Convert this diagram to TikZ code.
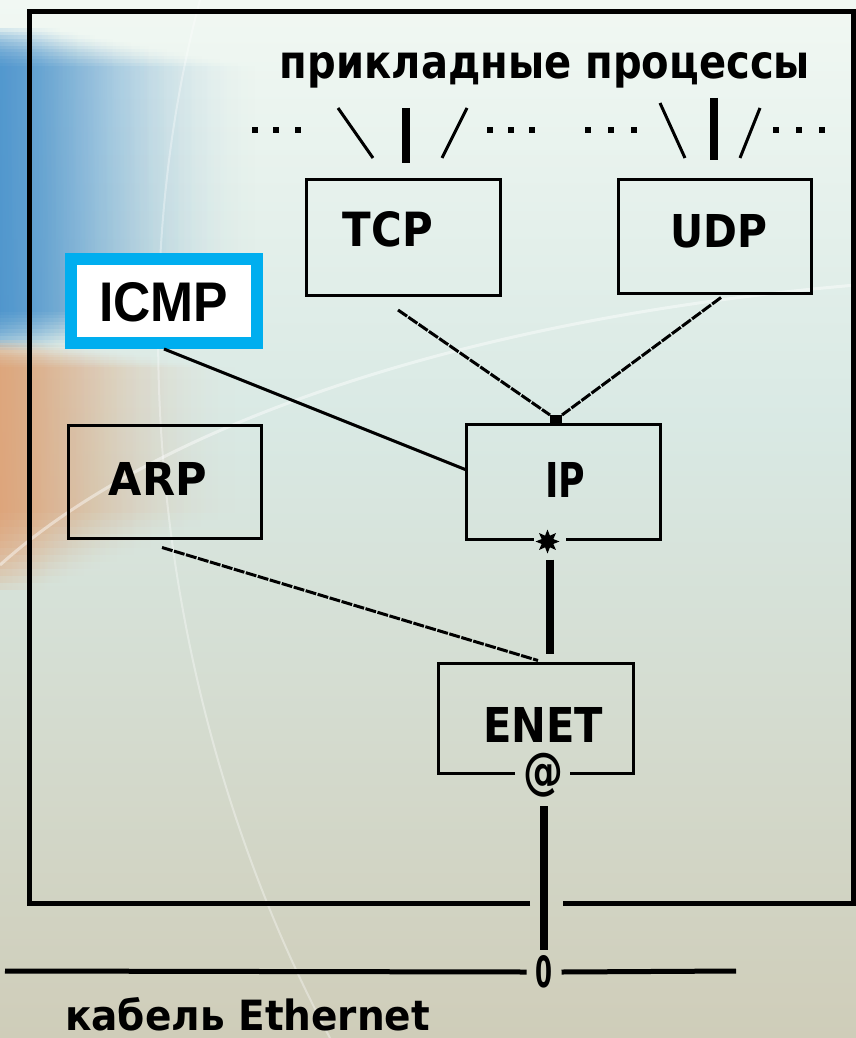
\documentclass[tikz,border=0pt]{standalone}
\usepackage{fontspec}
\setmainfont{DejaVu Sans}
\newfontfamily\arialfont{Liberation Sans}
\usetikzlibrary{fadings,shapes.geometric}

\definecolor{bgtop}{HTML}{F1F8F3}
\definecolor{bgmid}{HTML}{D9E9E4}
\definecolor{bgbot}{HTML}{CFCDB9}
\definecolor{bgblue}{HTML}{3A8ACB}
\definecolor{bgorange}{HTML}{E49A68}
\definecolor{icmpblue}{RGB}{0,174,239}

% bold text squeezed or stretched to a given width and height
\newcommand\pxfit[3]{\resizebox{#1}{#2}{\bfseries #3}}

\begin{document}
\begin{tikzpicture}[x=1pt,y=-1pt,
  boxline/.style={line width=3pt},
  proto/.style={draw, boxline, inner sep=0pt, outer sep=0pt},
  bare/.style={inner sep=0pt, outer sep=0pt},
  lab/.style={inner sep=0pt, outer sep=0pt},
  wire/.style={line width=3pt},
  pxwire/.style={line width=3pt, dash pattern=on 11pt off 1.5pt},
  bus/.style={line width=8pt},
  cable/.style={line width=5pt},
  frameline/.style={line width=5pt},
  tick/.style={line width=3pt},
  bar/.style={line width=8pt},
]
\useasboundingbox (0,0) rectangle (856,1038);

% ---------- backdrop ----------
\shade[top color=bgtop, bottom color=bgmid] (0,0) rectangle (856,421);
\shade[top color=bgmid, bottom color=bgbot] (0,420) rectangle (856,1038);
% soft blue wash on the upper left
\foreach \i in {0,...,11}
  \fill[bgblue, opacity=.145, path fading=east]
    (0,{28+3.5*\i}) rectangle ({60+18*\i},{350-3.5*\i});
% soft orange wash below it
\foreach \i in {0,...,11}
  \fill[bgorange, opacity=.13, path fading=east]
    (0,{340+2.5*\i}) rectangle ({50+17*\i},{590-7*\i});
\draw[white, opacity=.45, line width=3pt]
  (0,565) .. controls (150,430) and (450,320) .. (856,285);
\draw[white, opacity=.35, line width=2pt]
  (200,0) .. controls (120,300) and (150,700) .. (330,1038);

% ---------- host frame ----------
\draw[frameline] (530,903) -- (29,903) -- (29,12) -- (853,12) -- (853,903) -- (563,903);

% ---------- application processes ----------
\node[lab, anchor=base] (apps) at (545,79) {\pxfit{530pt}{26pt}{прикладные процессы}};

\foreach \x in {254.5,275.5,297.5,490,511,532,587.5,610.5,633.5,776,799,822}
  \fill (\x-3,127) rectangle (\x+3,133);
\draw[tick] (338,108) -- (373,158);
\draw[bar]  (406,108) -- (406,163);
\draw[tick] (467,108) -- (442,158);
\draw[tick] (660,103) -- (685,158);
\draw[bar]  (714,98)  -- (714,160);
\draw[tick] (760,108) -- (740,158);

% ---------- protocol modules ----------
\node[proto, minimum width=194pt, minimum height=116pt,
  label={[lab, xshift=-15.5pt, yshift=8pt]center:\pxfit{90pt}{35pt}{TCP}}]
  (tcp) at (403.5,237.5) {};
\node[proto, minimum width=193pt, minimum height=114pt,
  label={[lab, xshift=3.5pt, yshift=5pt]center:\pxfit{97pt}{33pt}{UDP}}]
  (udp) at (715,236.5) {};
\node[proto, minimum width=193pt, minimum height=113pt,
  label={[lab, xshift=-7pt, yshift=3.5pt]center:\pxfit{98pt}{33pt}{ARP}}]
  (arp) at (165,482) {};
\node[bare, minimum width=194pt, minimum height=115pt,
  label={[lab, xshift=1.5pt, yshift=2.5pt]center:\pxfit{40pt}{35pt}{IP}}]
  (ip) at (563.5,482) {};
\node[bare, minimum width=195pt, minimum height=110pt,
  label={[lab, xshift=7pt, yshift=-6pt]center:\pxfit{120pt}{35pt}{ENET}}]
  (enet) at (536,718.5) {};
\node[draw=icmpblue, fill=white, line width=12pt, inner sep=0pt, outer sep=0pt,
  minimum width=186pt, minimum height=84pt,
  label={[lab, xshift=-0.5pt, yshift=-1.5pt]center:{\arialfont\pxfit{129pt}{39pt}{ICMP}}}]
  (icmp) at (164,301) {};

% IP and ENET borders are open where the interface marks sit
\draw[boxline] ([xshift=-30pt]ip.south) -- (ip.south west) -- (ip.north west)
  -- (ip.north east) -- (ip.south east) -- ([xshift=2pt]ip.south);
\draw[boxline] ([xshift=-21pt]enet.south) -- (enet.south west) -- (enet.north west)
  -- (enet.north east) -- (enet.south east) -- ([xshift=34pt]enet.south);

% interface marks
\node[star, star points=8, star point ratio=1.9, fill=black, draw=none,
  minimum size=24pt, inner sep=0pt, outer sep=0pt] (ipstar) at (547.5,541.5) {};
\node[lab] (enetat) at (543.5,775.5) {\resizebox*{40pt}{44pt}{\bfseries @}};
\node[fill=black, minimum width=12pt, minimum height=9pt, inner sep=0pt, outer sep=0pt]
  (ipjoin) at (556,419.5) {};

% ---------- connectors ----------
\draw[pxwire] ([shift={(-5.5,14.5)}]tcp.south) -- (ipjoin.north west);
\draw[pxwire] ([shift={(6,4)}]udp.south) -- (ipjoin.north east);
\draw[wire] ([yshift=-6pt]icmp.south) -- ([yshift=12pt]ip.west);
\draw[pxwire] ([shift={(-3,9)}]arp.south) -- ([shift={(2,-3)}]enet.north);
\draw[bus] ([shift={(2.5,18)}]ipstar.center) -- ([shift={(14,-10)}]enet.north);

% ---------- Ethernet cable ----------
\node[lab] (zero) at (544,972) {\pxfit{17pt}{32pt}{0}};
\coordinate (cabL) at (5,971);
\coordinate (cabR) at (736,971);
\draw[bus] ([yshift=-30.5pt]enetat.center) -- ([shift={(-0.5,-22)}]zero.center);
\draw[cable] (cabL) -- ([xshift=-9pt]zero.west);
\draw[cable] ([xshift=9pt]zero.east) -- (cabR);
\node[lab, anchor=base west] (cablelabel) at (65,1030) {\pxfit{365pt}{33pt}{кабель Ethernet}};
\end{tikzpicture}
\end{document}
